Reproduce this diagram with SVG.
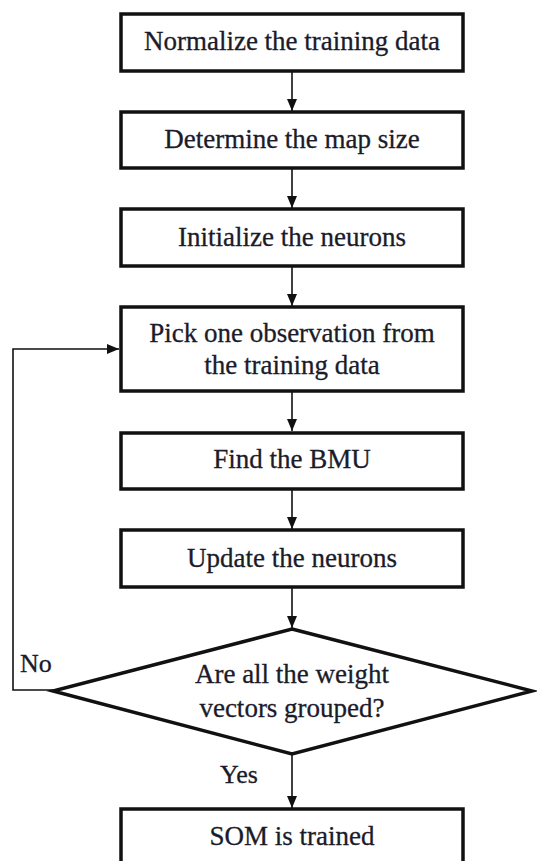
<svg xmlns="http://www.w3.org/2000/svg" width="537" height="861" viewBox="0 0 537 861">
<defs>
<marker id="ah" markerWidth="12" markerHeight="10" refX="12" refY="5" orient="auto" markerUnits="userSpaceOnUse">
<path d="M0,0 L12,5 L0,10 Z" fill="#111"/>
</marker>
<style>
.box{fill:#fff;stroke:#111;stroke-width:3.5}
.t{font-family:"Liberation Serif","Times New Roman",serif;font-size:27px;fill:#1b1b2a;stroke:#1b1b2a;stroke-width:0.3;text-anchor:middle}
.lb{font-family:"Liberation Serif","Times New Roman",serif;font-size:26px;fill:#1b1b2a;stroke:#1b1b2a;stroke-width:0.3}
.c{fill:none;stroke:#111;stroke-width:1.6}
</style>
</defs>
<rect width="537" height="861" fill="#fff"/>
<g id="connectors">
<line class="c" x1="292" y1="71" x2="292" y2="111" marker-end="url(#ah)"/>
<line class="c" x1="292" y1="168" x2="292" y2="208" marker-end="url(#ah)"/>
<line class="c" x1="292" y1="266" x2="292" y2="306" marker-end="url(#ah)"/>
<line class="c" x1="292" y1="391" x2="292" y2="431" marker-end="url(#ah)"/>
<line class="c" x1="292" y1="489" x2="292" y2="529" marker-end="url(#ah)"/>
<line class="c" x1="292" y1="587" x2="292" y2="628" marker-end="url(#ah)"/>
<line class="c" x1="292" y1="754" x2="292" y2="808" marker-end="url(#ah)"/>
<polyline class="c" points="53,690 13,690 13,349 119,349" marker-end="url(#ah)"/>
<text class="lb" x="20" y="672">No</text>
<text class="lb" x="220" y="783">Yes</text>
</g>
<g id="n1">
<rect class="box" x="121" y="14" width="342" height="57"/>
<text class="t" x="292" y="50">Normalize the training data</text>
</g>
<g id="n2">
<rect class="box" x="121" y="112" width="342" height="56"/>
<text class="t" x="292" y="148">Determine the map size</text>
</g>
<g id="n3">
<rect class="box" x="121" y="209" width="342" height="57"/>
<text class="t" x="292" y="246">Initialize the neurons</text>
</g>
<g id="n4">
<rect class="box" x="121" y="307" width="342" height="84"/>
<text class="t" x="292" y="342">Pick one observation from</text>
<text class="t" x="292" y="374">the training data</text>
</g>
<g id="n5">
<rect class="box" x="121" y="433" width="342" height="56"/>
<text class="t" x="292" y="468">Find the BMU</text>
</g>
<g id="n6">
<rect class="box" x="121" y="530" width="342" height="57"/>
<text class="t" x="292" y="567">Update the neurons</text>
</g>
<g id="n7">
<polygon class="box" points="292,629 532,691 292,754 53,691"/>
<text class="t" x="292" y="683">Are all the weight</text>
<text class="t" x="292" y="717">vectors grouped?</text>
</g>
<g id="n8">
<rect class="box" x="121" y="809" width="342" height="70"/>
<text class="t" x="292" y="845">SOM is trained</text>
</g>
</svg>
